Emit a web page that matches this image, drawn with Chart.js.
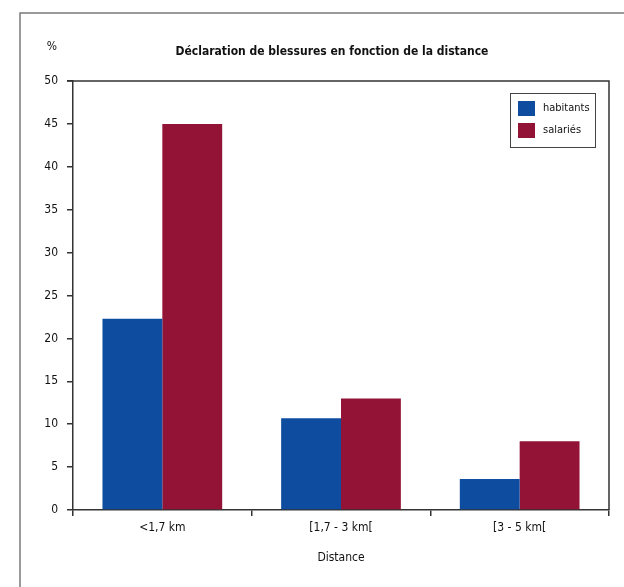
<!DOCTYPE html>
<html>
<head>
<meta charset="utf-8">
<script src="https://cdn.jsdelivr.net/npm/chart.js@4/dist/chart.umd.min.js"></script>
<style>
  html, body { margin: 0; padding: 0; background: #ffffff; }
  #wrap { width: 624px; height: 587px; position: relative; }
</style>
</head>
<body>
<div id="wrap"><canvas id="c" width="624" height="587"></canvas></div>
<script>
const categories = ['<1,7 km', '[1,7 - 3 km[', '[3 - 5 km['];
const habitants = [22.3, 10.7, 3.6];
const salaries = [45, 13, 8];
const seriesNames = ['habitants', 'salariés'];
const yTicks = [0, 5, 10, 15, 20, 25, 30, 35, 40, 45, 50];
const chartTitle = 'Déclaration de blessures en fonction de la distance';
const yUnit = '%';
const xTitle = 'Distance';

const FONT = '"Liberation Sans Narrow", "DejaVu Sans Condensed", "Arial Narrow", sans-serif';
const BLUE = 'rgb(13,76,158)';
const RED = 'rgb(147,19,54)';
const AXIS = '#333333';

const decor = {
  id: 'decor',
  beforeDraw(chart) {
    const ctx = chart.ctx;
    ctx.save();
    ctx.fillStyle = '#fff';
    ctx.fillRect(0, 0, chart.width, chart.height);
    ctx.strokeStyle = '#7a7a7a';
    ctx.lineWidth = 1.5;
    ctx.beginPath();
    ctx.moveTo(20, chart.height);
    ctx.lineTo(20, 13);
    ctx.lineTo(chart.width, 13);
    ctx.stroke();
    ctx.restore();
  },
  afterDraw(chart) {
    const ctx = chart.ctx;
    const a = chart.chartArea;
    ctx.save();
    ctx.strokeStyle = AXIS;
    ctx.lineWidth = 1.5;
    ctx.beginPath();
    ctx.moveTo(a.left - 6, a.top);
    ctx.lineTo(a.right, a.top);
    ctx.lineTo(a.right, a.bottom);
    ctx.stroke();
    ctx.fillStyle = '#111';
    ctx.textAlign = 'center';
    ctx.textBaseline = 'middle';
    ctx.font = 'bold 12px ' + FONT;
    ctx.fillText(chartTitle, 332, 52);
    ctx.font = '12px ' + FONT;
    ctx.fillText(yUnit, 52, 47);
    const lx = 510, ly = 93, lw = 85, lh = 54;
    ctx.fillStyle = '#fff';
    ctx.fillRect(lx, ly, lw, lh);
    ctx.strokeStyle = '#444';
    ctx.lineWidth = 1;
    ctx.strokeRect(lx + 0.5, ly + 0.5, lw, lh);
    chart.data.datasets.forEach((ds, i) => {
      const y = ly + 8 + i * 22;
      ctx.fillStyle = ds.backgroundColor;
      ctx.fillRect(lx + 8, y, 17, 15);
      ctx.fillStyle = '#111';
      ctx.textAlign = 'left';
      ctx.textBaseline = 'middle';
      ctx.font = '11px ' + FONT;
      ctx.fillText(ds.label, lx + 33, y + 7.5);
    });
    ctx.restore();
  }
};

new Chart(document.getElementById('c'), {
  type: 'bar',
  data: {
    labels: categories,
    datasets: [
      { label: seriesNames[0], data: habitants, backgroundColor: BLUE, borderWidth: 0 },
      { label: seriesNames[1], data: salaries, backgroundColor: RED, borderWidth: 0 }
    ]
  },
  options: {
    responsive: false,
    animation: false,
    devicePixelRatio: 1,
    layout: { padding: { left: 20, right: 15, top: 81, bottom: 0 } },
    datasets: { bar: { categoryPercentage: 0.67, barPercentage: 1.0 } },
    plugins: {
      legend: { display: false },
      title: { display: false },
      tooltip: { enabled: false }
    },
    scales: {
      x: {
        offset: true,
        grid: { display: true, drawOnChartArea: false, offset: true, tickLength: 6, color: AXIS, lineWidth: 1.5 },
        border: { display: true, color: AXIS, width: 1.5 },
        ticks: { color: '#111', font: { family: FONT, size: 12 }, padding: 5, maxRotation: 0 },
        title: { display: true, text: xTitle, color: '#111', font: { family: FONT, size: 12 }, padding: { top: 14, bottom: 22 } },
        afterFit(scale) { scale.height = 77; }
      },
      y: {
        min: 0, max: 50,
        afterBuildTicks(scale) { scale.ticks = yTicks.map(v => ({ value: v })); },
        grid: { display: true, drawOnChartArea: false, tickLength: 6, color: AXIS, lineWidth: 1.5 },
        border: { display: true, color: AXIS, width: 1.5 },
        ticks: { color: '#111', font: { family: FONT, size: 12 }, padding: 9 },
        afterFit(scale) { scale.width = 53; }
      }
    }
  },
  plugins: [decor]
});
</script>
</body>
</html>
